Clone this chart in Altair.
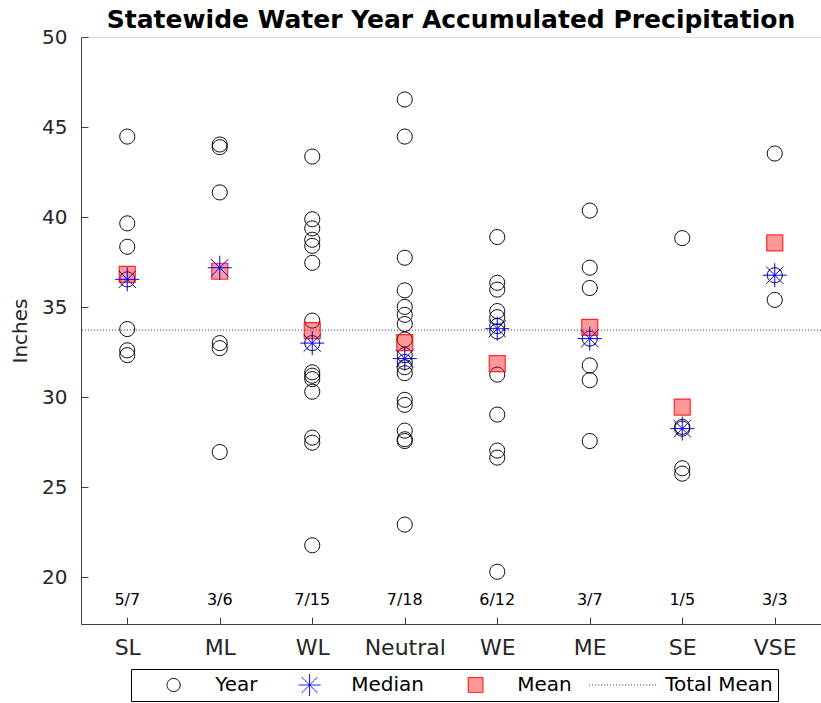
import altair as alt
import pandas as pd

# ---- data ----
phases = ["SL", "ML", "WL", "Neutral", "WE", "ME", "SE", "VSE"]
sl = [44.47, 39.65, 38.35, 36.54, 33.78, 32.60, 32.33]
ml = [44.03, 43.88, 41.37, 33.00, 32.72, 26.95]
wl = [43.36, 39.88, 39.37, 38.74, 38.40, 37.46, 34.25, 33.00, 31.38, 31.19,
      31.00, 30.30, 27.75, 27.47, 21.77]
neutral = [46.53, 44.47, 37.74, 35.93, 35.01, 34.57, 34.06, 33.20, 32.33,
           31.95, 31.66, 31.33, 29.85, 29.57, 28.14, 27.66, 27.56, 22.92]
we = [38.89, 36.35, 35.97, 34.78, 34.44, 33.95, 33.65, 31.25, 29.03, 27.03,
      26.64, 20.30]
me = [40.36, 37.19, 36.06, 33.25, 31.76, 30.94, 27.56]
se = [38.83, 28.35, 28.25, 26.05, 25.75]
vse = [43.53, 36.77, 35.40]
count_labels = ["5/7", "3/6", "7/15", "7/18", "6/12", "3/7", "1/5", "3/3"]
y_ticks = [20, 25, 30, 35, 40, 45, 50]

groups = [sl, ml, wl, neutral, we, me, se, vse]
rows = [{"phase": p, "inches": v} for p, g in zip(phases, groups) for v in g]
df = pd.DataFrame(rows)
labels_df = pd.DataFrame({"phase": phases, "label": count_labels})

FONT = "DejaVu Sans"
AX = "#404040"
# symbol paths in a common frame (legend: 1 unit = 34.5 px)
CIRCLE = "M0.19,0A0.19,0.19,0,1,1,-0.19,0A0.19,0.19,0,1,1,0.19,0Z"
STAR = ("M-0.32,0L0.32,0M0,-0.32L0,0.32M-0.23,-0.23L0.23,0.23"
        "M-0.23,0.23L0.23,-0.23")
SQUARE = "M-0.215,-0.215L0.215,-0.215L0.215,0.215L-0.215,0.215Z"
HLINE = "M-1,0L1,0"

series = ["Year", "Median", "Mean", "Total Mean"]
legend = alt.Legend(title=None, orient="none", legendX=50, legendY=632,
                    direction="horizontal", columns=4, strokeColor="black",
                    fillColor="white", padding=5, labelFontSize=20,
                    labelFont=FONT, labelColor="black", symbolStrokeWidth=1,
                    symbolSize=4761, clipHeight=22, symbolOffset=2.6,
                    columnPadding=14, labelOffset=6.6, gridAlign="each")
shape_enc = alt.Shape("series:N", legend=legend, scale=alt.Scale(
    domain=series, range=[CIRCLE, STAR, SQUARE, HLINE]))
stroke_enc = alt.Stroke("series:N", legend=legend, scale=alt.Scale(
    domain=series, range=["#000000", "#0000ff", "#ff0000", "#444444"]))
fill_enc = alt.Fill("series:N", legend=legend, scale=alt.Scale(
    domain=series, range=["transparent", "transparent", "rgba(255,0,0,0.4)", "transparent"]))
dash_enc = alt.StrokeDash("series:N", legend=legend, scale=alt.Scale(
    domain=series, range=[[1, 0], [1, 0], [1, 0], [1, 2]]))

# inward tick marks drawn as short grid dashes (x grid runs top -> bottom)
x_enc = alt.X("phase:N", sort=phases,
              scale=alt.Scale(type="point", padding=0.5),
              axis=alt.Axis(title=None, labelAngle=0, labelFontSize=22,
                            labelFont=FONT, labelColor="#262626",
                            labelPadding=13, tickSize=0, ticks=False,
                            grid=True, gridDash=[7, 2000], gridDashOffset=1427,
                            gridColor=AX, gridOpacity=1, domainColor=AX))
y_scale = alt.Scale(domain=[17.4, 50], nice=False, zero=False)
y_axis = alt.Axis(title="Inches", values=y_ticks, titleFontSize=20,
                  titleFont=FONT, titleFontWeight="normal", titleColor="#262626",
                  titlePadding=11, labelFontSize=20, labelFont=FONT,
                  labelColor="#262626", labelPadding=14, tickSize=0, ticks=False,
                  grid=True, gridDash=[7, 2000], gridColor=AX, gridOpacity=1,
                  domainColor=AX)

base = alt.Chart(df)

years = base.transform_calculate(series="'Year'").mark_point(
    filled=True, opacity=1, strokeWidth=1, size=6230
).encode(x=x_enc, y=alt.Y("inches:Q", scale=y_scale, axis=y_axis),
         shape=shape_enc, stroke=stroke_enc, fill=fill_enc)

agg = base.transform_aggregate(
    mean_v="mean(inches)", median_v="median(inches)", groupby=["phase"])

means = agg.transform_calculate(series="'Mean'").mark_point(
    filled=True, opacity=1, strokeWidth=1.2, strokeOpacity=0.8, size=5540
).encode(x=x_enc, y=alt.Y("mean_v:Q", scale=y_scale),
         shape=shape_enc, stroke=stroke_enc, fill=fill_enc)

medians = agg.transform_calculate(series="'Median'").mark_point(
    filled=True, opacity=1, strokeWidth=1, size=5650
).encode(x=x_enc, y=alt.Y("median_v:Q", scale=y_scale),
         shape=shape_enc, stroke=stroke_enc, fill=fill_enc)

total = base.transform_aggregate(total_v="mean(inches)").transform_calculate(
    series="'Total Mean'").mark_rule(strokeWidth=1).encode(
    y=alt.Y("total_v:Q", scale=y_scale), stroke=stroke_enc, strokeDash=dash_enc)

counts = alt.Chart(labels_df).mark_text(
    fontSize=16, font=FONT, color="black", baseline="middle"
).encode(x=x_enc, y=alt.value(563), text="label:N")

chart = alt.layer(total, years, means, medians, counts).properties(
    width=740, height=587,
    padding={"left": 81, "top": 37, "right": 0, "bottom": 79},
    autosize=alt.AutoSizeParams(type="none"),
    title=alt.Title("Statewide Water Year Accumulated Precipitation",
                    fontSize=25, font=FONT, fontWeight="bold", color="black",
                    anchor="middle", offset=-6),
).configure_view(stroke=None).configure(background="white")

chart.save("out.html", embed_options={"renderer": "svg", "actions": False})
